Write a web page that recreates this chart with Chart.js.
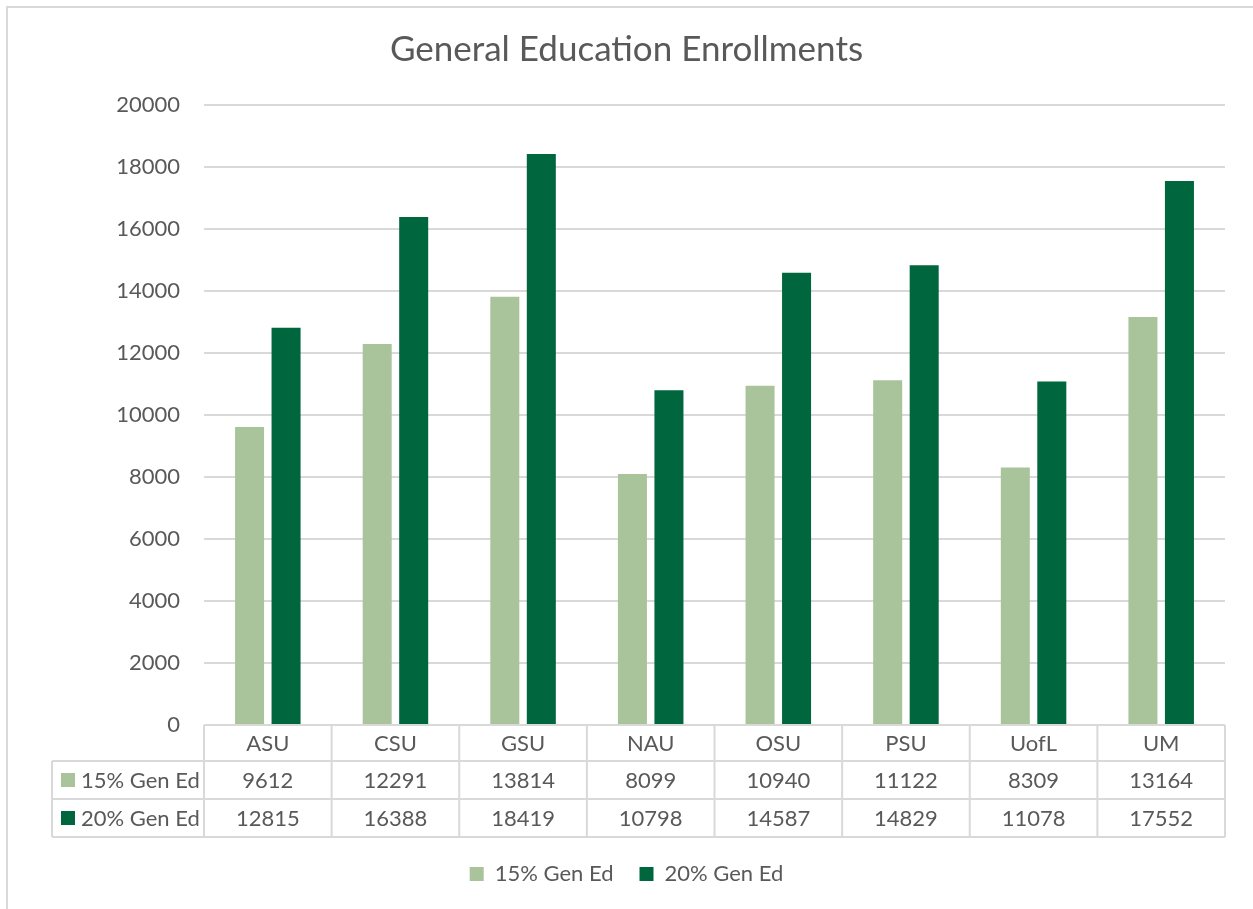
<!DOCTYPE html>
<html>
<head>
<meta charset="utf-8">
<title>General Education Enrollments</title>
<script src="https://cdn.jsdelivr.net/npm/chart.js@4/dist/chart.umd.min.js"></script>
<style>
    html, body { margin: 0; padding: 0; background: #ffffff; }
    #wrap { width: 1253px; height: 909px; position: relative; }
</style>
</head>
<body>
<div id="wrap"><canvas id="enrollChart"></canvas></div>
<script>
const schools = ['ASU', 'CSU', 'GSU', 'NAU', 'OSU', 'PSU', 'UofL', 'UM'];
const genEd15 = [9612, 12291, 13814, 8099, 10940, 11122, 8309, 13164];
const genEd20 = [12815, 16388, 18419, 10798, 14587, 14829, 11078, 17552];
const seriesNames = ['15% Gen Ed', '20% Gen Ed'];
const seriesColors = ['#A9C49A', '#00663D'];

const textColor = '#595959';
const lineColor = '#D9D9D9';
const fontFamily = 'Lato, "Open Sans", sans-serif';

// border round the chart, like the Excel chart frame
const frame = {
    id: 'frame',
    beforeDraw: (chart) => {
        const { ctx, width, height } = chart;
        ctx.save();
        ctx.fillStyle = '#ffffff';
        ctx.fillRect(0, 0, width, height);
        ctx.strokeStyle = lineColor;
        ctx.lineWidth = 2;
        ctx.beginPath();
        ctx.moveTo(7, height);
        ctx.lineTo(7, 7);
        ctx.lineTo(width, 7);
        ctx.stroke();
        ctx.restore();
    },
};

// data table under the plot (Excel style)
const dataTable = {
    id: 'dataTable',
    afterDraw: (chart) => {
        const { ctx, chartArea, scales } = chart;
        const x = scales.x;
        const colW = x.width / schools.length;
        const rowH = [36, 38, 38];
        const top = chartArea.bottom;
        const y1 = top + rowH[0];
        const y2 = y1 + rowH[1];
        const y3 = y2 + rowH[2];
        const keyLeft = chartArea.left - 152;
        const rows = [genEd15, genEd20];

        ctx.save();
        ctx.strokeStyle = lineColor;
        ctx.lineWidth = 2;
        ctx.beginPath();
        ctx.moveTo(chartArea.left, top);
        ctx.lineTo(chartArea.right, top);
        [y1, y2, y3].forEach((yy) => {
            ctx.moveTo(keyLeft, yy);
            ctx.lineTo(chartArea.right, yy);
        });
        for (let i = 0; i <= schools.length; i++) {
            const xx = chartArea.left + i * colW;
            ctx.moveTo(xx, top);
            ctx.lineTo(xx, y3);
        }
        ctx.moveTo(keyLeft, y1);
        ctx.lineTo(keyLeft, y3);
        ctx.stroke();

        ctx.font = '22px ' + fontFamily;
        ctx.fillStyle = textColor;
        ctx.textAlign = 'center';
        ctx.textBaseline = 'middle';
        schools.forEach((s, i) => {
            const cx = x.getPixelForValue(i);
            ctx.fillText(s, cx, top + rowH[0] / 2 + 1);
            ctx.fillText(String(rows[0][i]), cx, y1 + rowH[1] / 2 + 1);
            ctx.fillText(String(rows[1][i]), cx, y2 + rowH[2] / 2 + 1);
        });

        ctx.textAlign = 'left';
        [y1, y2].forEach((yy, r) => {
            const cy = yy + rowH[r + 1] / 2;
            ctx.fillStyle = seriesColors[r];
            ctx.fillRect(keyLeft + 9, cy - 7, 14, 14);
            ctx.fillStyle = textColor;
            ctx.fillText(seriesNames[r], keyLeft + 29, cy + 1);
        });
        ctx.restore();
    },
};

const config = {
    type: 'bar',
    data: {
        labels: schools,
        datasets: [
            {
                label: seriesNames[0],
                data: genEd15,
                backgroundColor: seriesColors[0],
                categoryPercentage: 0.572,
                barPercentage: 0.795,
            },
            {
                label: seriesNames[1],
                data: genEd20,
                backgroundColor: seriesColors[1],
                categoryPercentage: 0.572,
                barPercentage: 0.795,
            },
        ],
    },
    options: {
        responsive: true,
        maintainAspectRatio: false,
        animation: false,
        layout: {
            padding: { left: 0, right: 0, top: 0, bottom: 14 },
        },
        plugins: {
            title: {
                display: true,
                text: 'General Education Enrollments',
                color: textColor,
                font: { family: fontFamily, size: 35, weight: 'normal' },
                padding: { top: 29, bottom: 34 },
            },
            legend: {
                position: 'bottom',
                labels: {
                    color: textColor,
                    font: { family: fontFamily, size: 22 },
                    boxWidth: 14,
                    boxHeight: 14,
                    padding: 26,
                },
            },
            tooltip: { enabled: false },
        },
        scales: {
            x: {
                grid: { display: false },
                border: { display: false },
                ticks: { display: false },
                afterFit: (scale) => { scale.height = 112; },
            },
            y: {
                min: 0,
                max: 20000,
                ticks: {
                    stepSize: 2000,
                    color: textColor,
                    padding: 24,
                    font: { family: fontFamily, size: 22 },
                    callback: (value) => String(value),
                },
                grid: { color: lineColor, lineWidth: 2, drawTicks: false },
                border: { display: false },
                afterFit: (scale) => { scale.width = 204; },
            },
            // empty right axis, only keeps the gap on the right of the plot
            yRight: {
                position: 'right',
                min: 0,
                max: 20000,
                ticks: { display: false },
                grid: { display: false },
                border: { display: false },
                afterFit: (scale) => { scale.width = 28; },
            },
        },
    },
    plugins: [frame, dataTable],
};

new Chart(document.getElementById('enrollChart'), config);
</script>
</body>
</html>
